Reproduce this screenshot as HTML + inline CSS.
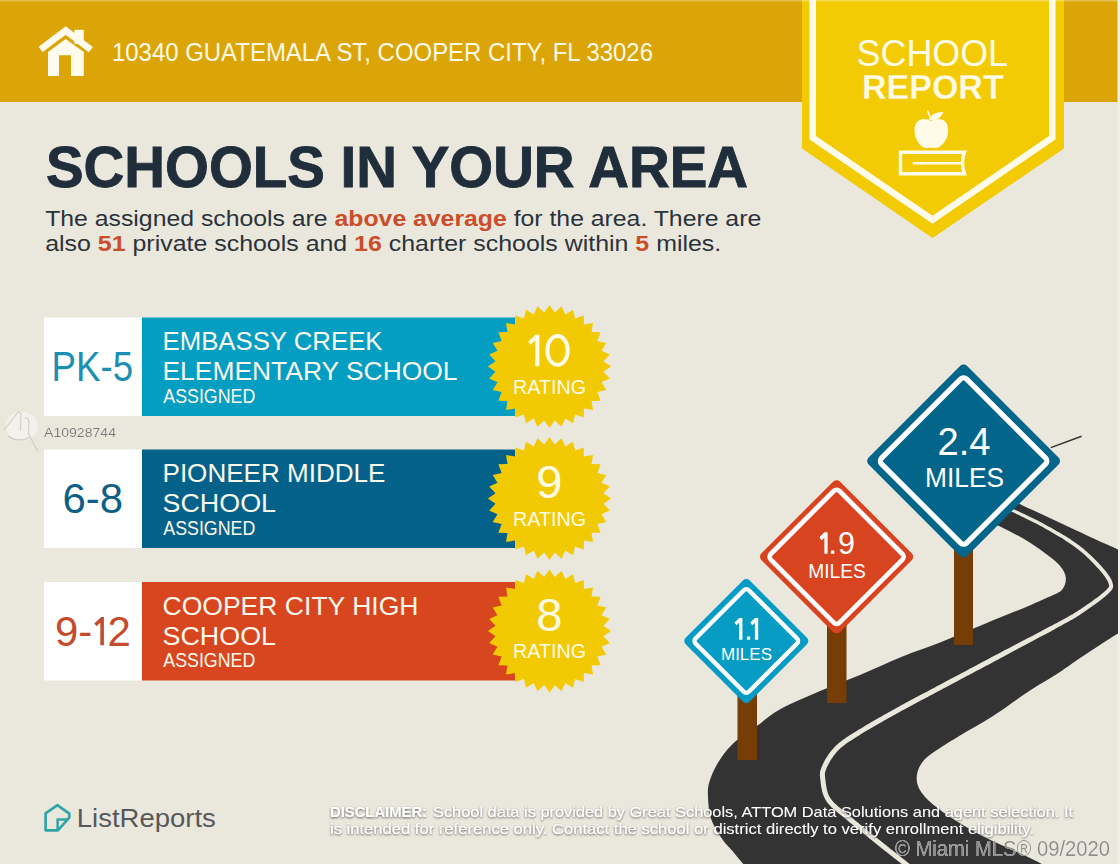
<!DOCTYPE html>
<html><head><meta charset="utf-8"><style>
html,body{margin:0;padding:0;background:#EAE7DD;width:1120px;height:864px;overflow:hidden}
svg{display:block}
text{font-family:"Liberation Sans",sans-serif}
</style></head><body>
<svg width="1120" height="864" viewBox="0 0 1120 864">
<rect width="1120" height="864" fill="#EAE7DD"/>
<rect x="0" y="0" width="1118" height="102" fill="#DBA508"/>
<rect x="1117.5" y="0" width="3" height="864" fill="#F3F0EA"/>
<g fill="#FFFCEE"><rect x="74.4" y="29.8" width="9.4" height="14"/><path d="M48,52 L65.7,38.9 L83.8,52 L83.8,76 L71,76 L71,55.2 L59,55.2 L59,76 L48,76 Z"/></g>
<polyline points="40.7,49.4 65.7,30.6 90.8,49.6" fill="none" stroke="#FFFCEE" stroke-width="6.8" stroke-linejoin="miter"/>
<text x="112" y="61" font-size="25" fill="#FFF9E6" font-family="&apos;Liberation Sans&apos;, sans-serif" textLength="541" lengthAdjust="spacingAndGlyphs">10340 GUATEMALA ST, COOPER CITY, FL 33026</text>
<polygon points="802,0 1064,0 1064,148.5 932.5,238 802,148.5" fill="#F2CB05"/>
<polyline points="812.75,-5 812.75,137.7 932.5,219.7 1052.25,137.7 1052.25,-5" fill="none" stroke="#FFFBE8" stroke-width="6.5" stroke-linejoin="miter"/>
<text x="856.6" y="66.4" font-size="37.5" fill="#FFFBE8" font-family="&apos;Liberation Sans&apos;, sans-serif" textLength="151.4" lengthAdjust="spacingAndGlyphs">SCHOOL</text>
<text x="862" y="98.8" font-size="35.3" font-weight="bold" fill="#FFFBE8" stroke="#F2CB05" stroke-width="0.3" font-family="&apos;Liberation Sans&apos;, sans-serif" textLength="141.7" lengthAdjust="spacingAndGlyphs">REPORT</text>
<g fill="#FFFBE8"><path d="M931,121 C925,117 914,118 914.5,131 C915,141 922,149 927,148 C929,147.5 932,147.5 934,148 C940,149 948,141 948.2,131 C948.5,118 938,117 931,121 Z"/><path d="M929,120 C931,114 936,112 943.5,112 C941,118 936,121 929,120 Z"/></g>
<line x1="927.5" y1="110.5" x2="930.5" y2="118" stroke="#FFFBE8" stroke-width="1.6"/>
<path d="M900.5,152.2 H964.5 Q960.5,163 964.5,173.8 H900.5 Z" fill="none" stroke="#FFFBE8" stroke-width="3.4"/>
<line x1="912.8" y1="163.3" x2="962" y2="163.3" stroke="#FFFBE8" stroke-width="2.6"/>
<rect x="0" y="0" width="1118" height="1.5" fill="#FFFFFF" opacity="0.3"/>
<text x="46" y="187" font-size="57" font-weight="bold" fill="#1F2E3A" stroke="#1F2E3A" stroke-width="0.9" font-family="&apos;Liberation Sans&apos;, sans-serif" textLength="702" lengthAdjust="spacingAndGlyphs">SCHOOLS IN YOUR AREA</text>
<text x="45.2" y="226.4" font-size="22" fill="#2B333A" font-family="&apos;Liberation Sans&apos;, sans-serif" textLength="716" lengthAdjust="spacingAndGlyphs">The assigned schools are <tspan font-weight="bold" fill="#CB4E2B">above average</tspan> for the area. There are</text>
<text x="45.2" y="251.4" font-size="22" fill="#2B333A" font-family="&apos;Liberation Sans&apos;, sans-serif" textLength="676" lengthAdjust="spacingAndGlyphs">also <tspan font-weight="bold" fill="#CB4E2B">51</tspan> private schools and <tspan font-weight="bold" fill="#CB4E2B">16</tspan> charter schools within <tspan font-weight="bold" fill="#CB4E2B">5</tspan> miles.</text>
<rect x="44" y="317.5" width="98" height="98.5" fill="#FFFFFF"/>
<rect x="142" y="317.5" width="373" height="98.5" fill="#049EC2"/>
<path d="M549.5,305.0 L554.8,312.5 L561.5,306.2 L565.3,314.5 L573.0,309.7 L575.1,318.6 L583.7,315.4 L583.9,324.5 L593.0,323.0 L591.5,332.1 L600.6,332.3 L597.4,340.9 L606.3,343.0 L601.5,350.7 L609.8,354.5 L603.5,361.2 L611.0,366.5 L603.5,371.8 L609.8,378.5 L601.5,382.3 L606.3,390.0 L597.4,392.1 L600.6,400.7 L591.5,400.9 L593.0,410.0 L583.9,408.5 L583.7,417.6 L575.1,414.4 L573.0,423.3 L565.3,418.5 L561.5,426.8 L554.8,420.5 L549.5,428.0 L544.2,420.5 L537.5,426.8 L533.7,418.5 L526.0,423.3 L523.9,414.4 L515.3,417.6 L515.1,408.5 L506.0,410.0 L507.5,400.9 L498.4,400.7 L501.6,392.1 L492.7,390.0 L497.5,382.3 L489.2,378.5 L495.5,371.8 L488.0,366.5 L495.5,361.2 L489.2,354.5 L497.5,350.7 L492.7,343.0 L501.6,340.9 L498.4,332.3 L507.5,332.1 L506.0,323.0 L515.1,324.5 L515.3,315.4 L523.9,318.6 L526.0,309.7 L533.7,314.5 L537.5,306.2 L544.2,312.5Z" fill="#F2CA04"/>
<text x="51.6" y="381.0" font-size="42" fill="#1B90B2" font-family="&apos;Liberation Sans&apos;, sans-serif" textLength="81.5" lengthAdjust="spacingAndGlyphs">PK-5</text>
<text x="162.5" y="350.0" font-size="26.5" fill="#FBF8EC" font-family="&apos;Liberation Sans&apos;, sans-serif" textLength="220" lengthAdjust="spacingAndGlyphs">EMBASSY CREEK</text>
<text x="162.5" y="380.0" font-size="26.5" fill="#FBF8EC" font-family="&apos;Liberation Sans&apos;, sans-serif" textLength="295" lengthAdjust="spacingAndGlyphs">ELEMENTARY SCHOOL</text>
<text x="163.3" y="402.8" font-size="19.5" fill="#FBF8EC" font-family="&apos;Liberation Sans&apos;, sans-serif" textLength="92" lengthAdjust="spacingAndGlyphs">ASSIGNED</text>
<path d="M528.3,341.6 L535.6,334.7 L539.4,334.7 L539.4,366.3 L535.3,366.3 L535.3,340.6 L530.6,344.8 Z" fill="#FFFBE6"/>
<ellipse cx="557.55" cy="350.4" rx="10.2" ry="14.4" fill="none" stroke="#FFFBE6" stroke-width="3.9"/>
<text x="549.5" y="393.5" font-size="20" fill="#FFFBE6" font-family="&apos;Liberation Sans&apos;, sans-serif" text-anchor="middle" textLength="73" lengthAdjust="spacingAndGlyphs">RATING</text>
<rect x="44" y="449.5" width="98" height="98.5" fill="#FFFFFF"/>
<rect x="142" y="449.5" width="373" height="98.5" fill="#04628A"/>
<path d="M549.5,437.0 L554.8,444.5 L561.5,438.2 L565.3,446.5 L573.0,441.7 L575.1,450.6 L583.7,447.4 L583.9,456.5 L593.0,455.0 L591.5,464.1 L600.6,464.3 L597.4,472.9 L606.3,475.0 L601.5,482.7 L609.8,486.5 L603.5,493.2 L611.0,498.5 L603.5,503.8 L609.8,510.5 L601.5,514.3 L606.3,522.0 L597.4,524.1 L600.6,532.7 L591.5,532.9 L593.0,542.0 L583.9,540.5 L583.7,549.6 L575.1,546.4 L573.0,555.3 L565.3,550.5 L561.5,558.8 L554.8,552.5 L549.5,560.0 L544.2,552.5 L537.5,558.8 L533.7,550.5 L526.0,555.3 L523.9,546.4 L515.3,549.6 L515.1,540.5 L506.0,542.0 L507.5,532.9 L498.4,532.7 L501.6,524.1 L492.7,522.0 L497.5,514.3 L489.2,510.5 L495.5,503.8 L488.0,498.5 L495.5,493.2 L489.2,486.5 L497.5,482.7 L492.7,475.0 L501.6,472.9 L498.4,464.3 L507.5,464.1 L506.0,455.0 L515.1,456.5 L515.3,447.4 L523.9,450.6 L526.0,441.7 L533.7,446.5 L537.5,438.2 L544.2,444.5Z" fill="#F2CA04"/>
<text x="62.6" y="513.0" font-size="42" fill="#0E5F85" font-family="&apos;Liberation Sans&apos;, sans-serif" textLength="60.5" lengthAdjust="spacingAndGlyphs">6-8</text>
<text x="162.5" y="482.0" font-size="26.5" fill="#FBF8EC" font-family="&apos;Liberation Sans&apos;, sans-serif" textLength="223" lengthAdjust="spacingAndGlyphs">PIONEER MIDDLE</text>
<text x="162.5" y="512.0" font-size="26.5" fill="#FBF8EC" font-family="&apos;Liberation Sans&apos;, sans-serif" textLength="113.5" lengthAdjust="spacingAndGlyphs">SCHOOL</text>
<text x="163.3" y="534.8" font-size="19.5" fill="#FBF8EC" font-family="&apos;Liberation Sans&apos;, sans-serif" textLength="92" lengthAdjust="spacingAndGlyphs">ASSIGNED</text>
<text x="549.2" y="498.4" font-size="47" fill="#FFFBE6" font-family="&apos;Liberation Sans&apos;, sans-serif" text-anchor="middle" >9</text>
<text x="549.5" y="525.5" font-size="20" fill="#FFFBE6" font-family="&apos;Liberation Sans&apos;, sans-serif" text-anchor="middle" textLength="73" lengthAdjust="spacingAndGlyphs">RATING</text>
<rect x="44" y="582" width="98" height="98.5" fill="#FFFFFF"/>
<rect x="142" y="582" width="373" height="98.5" fill="#D8461F"/>
<path d="M549.5,569.5 L554.8,577.0 L561.5,570.7 L565.3,579.0 L573.0,574.2 L575.1,583.1 L583.7,579.9 L583.9,589.0 L593.0,587.5 L591.5,596.6 L600.6,596.8 L597.4,605.4 L606.3,607.5 L601.5,615.2 L609.8,619.0 L603.5,625.7 L611.0,631.0 L603.5,636.3 L609.8,643.0 L601.5,646.8 L606.3,654.5 L597.4,656.6 L600.6,665.2 L591.5,665.4 L593.0,674.5 L583.9,673.0 L583.7,682.1 L575.1,678.9 L573.0,687.8 L565.3,683.0 L561.5,691.3 L554.8,685.0 L549.5,692.5 L544.2,685.0 L537.5,691.3 L533.7,683.0 L526.0,687.8 L523.9,678.9 L515.3,682.1 L515.1,673.0 L506.0,674.5 L507.5,665.4 L498.4,665.2 L501.6,656.6 L492.7,654.5 L497.5,646.8 L489.2,643.0 L495.5,636.3 L488.0,631.0 L495.5,625.7 L489.2,619.0 L497.5,615.2 L492.7,607.5 L501.6,605.4 L498.4,596.8 L507.5,596.6 L506.0,587.5 L515.1,589.0 L515.3,579.9 L523.9,583.1 L526.0,574.2 L533.7,579.0 L537.5,570.7 L544.2,577.0Z" fill="#F2CA04"/>
<text x="55" y="645.5" font-size="42" fill="#C64B2C" font-family="&apos;Liberation Sans&apos;, sans-serif">9-</text>
<path d="M94.3,623.6 L101.2,617.1 L103.9,617.1 L103.9,645.3 L100.3,645.3 L100.3,622.6 L96.6,626.2 Z" fill="#C64B2C"/>
<text x="107.5" y="645.5" font-size="42" fill="#C64B2C" font-family="&apos;Liberation Sans&apos;, sans-serif">2</text>
<text x="162.5" y="614.5" font-size="26.5" fill="#FBF8EC" font-family="&apos;Liberation Sans&apos;, sans-serif" textLength="256" lengthAdjust="spacingAndGlyphs">COOPER CITY HIGH</text>
<text x="162.5" y="644.5" font-size="26.5" fill="#FBF8EC" font-family="&apos;Liberation Sans&apos;, sans-serif" textLength="113.5" lengthAdjust="spacingAndGlyphs">SCHOOL</text>
<text x="163.3" y="667.3" font-size="19.5" fill="#FBF8EC" font-family="&apos;Liberation Sans&apos;, sans-serif" textLength="92" lengthAdjust="spacingAndGlyphs">ASSIGNED</text>
<text x="549.2" y="630.9" font-size="47" fill="#FFFBE6" font-family="&apos;Liberation Sans&apos;, sans-serif" text-anchor="middle" >8</text>
<text x="549.5" y="658" font-size="20" fill="#FFFBE6" font-family="&apos;Liberation Sans&apos;, sans-serif" text-anchor="middle" textLength="73" lengthAdjust="spacingAndGlyphs">RATING</text>
<text x="44" y="436.6" font-size="13.5" fill="#7A7874" font-family="&apos;Liberation Sans&apos;, sans-serif" textLength="72" lengthAdjust="spacingAndGlyphs" filter="url(#glow)">A10928744</text>
<ellipse cx="21.5" cy="426" rx="16" ry="14.5" fill="#F3F1EC"/>
<g fill="none" stroke="#CFCCC5" stroke-width="1.1" stroke-linecap="round"><path d="M4.5,429.5 L18.5,411.5 L21,414 L20.5,430.5"/><path d="M25,418 C28,417 29,420 29,424 L28.5,434 L37.5,451"/><path d="M8,436 C14,441 24,441 30,437"/></g>
<clipPath id="cp"><rect x="0" y="0" width="1118" height="864"/></clipPath>
<path d="M990.0,490.0 C992.5,491.2 1000.3,494.8 1005.0,497.0 C1009.7,499.2 1009.7,499.3 1018.4,503.4 C1027.1,507.5 1044.8,515.7 1057.3,521.6 C1069.8,527.5 1083.6,533.9 1093.7,538.6 C1103.8,543.3 1109.5,545.7 1118.0,549.6 C1126.5,553.5 1140.5,559.9 1145.0,562.0 L1145.0,620.0 C1140.5,622.2 1128.6,627.3 1118.0,633.5 C1107.4,639.7 1091.3,650.6 1081.6,657.0 C1071.9,663.4 1068.6,666.3 1060.0,671.9 C1051.4,677.5 1041.2,683.1 1030.0,690.5 C1018.8,697.9 1004.3,708.8 992.6,716.3 C980.9,723.8 968.8,730.2 960.0,735.5 C951.2,740.8 945.8,744.1 940.0,748.0 C934.2,751.9 928.8,755.0 925.0,759.0 C921.2,763.0 918.7,767.5 917.5,772.0 C916.3,776.5 916.2,781.3 918.0,786.0 C919.8,790.7 922.7,794.9 928.0,800.0 C933.3,805.1 940.9,810.9 950.0,816.9 C959.1,822.9 971.3,830.0 982.6,835.9 C993.9,841.8 1008.2,847.7 1017.8,852.2 C1027.4,856.7 1032.1,858.7 1040.0,863.0 C1047.9,867.3 1060.8,875.5 1065.0,878.0 L755.0,878.0 C751.5,873.9 739.8,859.7 734.3,853.2 C728.8,846.7 726.1,844.8 722.2,839.1 C718.3,833.4 713.5,825.7 711.1,819.0 C708.8,812.3 708.4,804.8 708.1,798.8 C707.8,792.8 707.4,788.8 709.1,782.7 C710.8,776.7 714.2,768.9 718.1,762.5 C722.0,756.1 725.8,750.4 732.2,744.4 C738.6,738.4 748.3,732.2 756.4,726.3 C764.5,720.4 770.0,715.0 780.6,709.1 C791.2,703.2 806.8,696.7 820.0,691.0 C833.2,685.3 846.5,680.7 860.0,675.0 C873.5,669.3 888.0,662.4 901.3,657.0 C914.6,651.6 928.2,647.2 940.0,642.5 C951.8,637.8 962.2,633.2 972.2,629.0 C982.2,624.8 991.9,620.8 1000.0,617.5 C1008.1,614.2 1012.9,612.5 1020.8,609.2 C1028.7,605.9 1040.6,600.8 1047.5,597.5 C1054.4,594.2 1059.0,593.0 1062.1,589.7 C1065.1,586.4 1066.2,581.5 1065.8,577.5 C1065.4,573.5 1063.2,569.4 1059.7,565.4 C1056.2,561.4 1051.2,557.7 1045.1,553.2 C1039.0,548.7 1030.7,543.1 1023.2,538.6 C1015.7,534.1 1006.5,529.8 1000.1,526.5 C993.7,523.2 989.2,521.1 985.0,519.0 C980.8,516.9 976.7,514.8 975.0,514.0 Z" fill="#333333" clip-path="url(#cp)"/>
<path d="M989.3,501.3 L989.6,501.5 L989.9,501.6 L990.2,501.8 L990.6,502.0 L991.0,502.2 L991.4,502.4 L991.8,502.6 L992.3,502.9 L992.8,503.1 L993.3,503.4 L993.9,503.7 L994.4,504.0 L995.0,504.3 L995.6,504.6 L996.2,504.9 L996.8,505.2 L997.4,505.5 L998.1,505.8 L998.7,506.1 L999.4,506.4 L1000.0,506.7 L1000.7,507.0 L1001.3,507.3 L1002.0,507.6 L1002.7,507.8 L1003.3,508.1 L1004.0,508.4 L1004.7,508.7 L1005.4,509.0 L1006.2,509.3 L1006.9,509.6 L1007.7,509.9 L1008.5,510.3 L1009.3,510.7 L1010.2,511.0 L1011.1,511.4 L1012.1,511.9 L1013.1,512.3 L1014.1,512.8 L1015.2,513.3 L1016.4,513.9 L1017.6,514.5 L1018.8,515.1 L1020.2,515.7 L1021.5,516.4 L1022.9,517.0 L1024.3,517.7 L1025.8,518.4 L1027.3,519.2 L1028.8,519.9 L1030.3,520.7 L1031.9,521.4 L1033.4,522.2 L1035.0,523.0 L1036.5,523.8 L1038.1,524.6 L1039.7,525.5 L1041.2,526.3 L1042.7,527.1 L1044.3,528.0 L1045.8,528.9 L1047.4,529.7 L1048.9,530.6 L1050.6,531.6 L1052.2,532.5 L1053.8,533.4 L1055.5,534.4 L1057.1,535.4 L1058.8,536.4 L1060.4,537.3 L1062.1,538.3 L1063.7,539.3 L1065.3,540.4 L1066.9,541.4 L1068.4,542.4 L1069.9,543.4 L1071.4,544.4 L1072.9,545.4 L1074.3,546.4 L1075.6,547.4 L1076.9,548.4 L1078.2,549.4 L1079.5,550.4 L1080.7,551.4 L1082.0,552.5 L1083.2,553.5 L1084.4,554.6 L1085.5,555.6 L1086.7,556.7 L1087.8,557.8 L1088.9,558.8 L1090.0,559.9 L1091.0,560.9 L1092.0,561.9 L1093.0,563.0 L1094.0,564.0 L1094.9,564.9 L1095.8,565.9 L1096.7,566.9 L1097.6,567.8 L1098.4,568.7 L1099.2,569.6 L1100.0,570.5 L1100.7,571.4 L1101.5,572.3 L1102.2,573.2 L1102.9,574.1 L1103.6,574.9 L1104.2,575.8 L1104.8,576.6 L1105.3,577.4 L1105.9,578.2 L1106.4,579.0 L1106.8,579.7 L1107.2,580.4 L1107.6,581.1 L1107.9,581.8 L1108.2,582.4 L1108.4,583.0 L1108.6,583.6 L1108.7,584.1 L1108.9,584.7 L1109.0,585.1 L1109.0,585.5 L1109.1,585.8 L1109.1,586.1 L1109.1,586.3 L1109.0,586.5 L1109.0,586.6 L1108.9,586.8 L1108.8,587.0 L1108.7,587.3 L1108.4,587.6 L1108.2,587.9 L1107.8,588.3 L1107.4,588.7 L1106.9,589.2 L1106.4,589.8 L1105.8,590.4 L1105.1,591.0 L1104.3,591.7 L1103.5,592.5 L1102.5,593.3 L1101.5,594.1 L1100.4,595.0 L1099.2,595.9 L1097.9,596.9 L1096.6,597.9 L1095.3,598.8 L1093.9,599.8 L1092.5,600.9 L1091.1,601.9 L1089.7,602.9 L1088.3,603.8 L1086.9,604.8 L1085.5,605.8 L1084.1,606.7 L1082.8,607.6 L1081.6,608.4 L1080.4,609.2 L1079.3,609.9 L1078.3,610.6 L1077.4,611.2 L1076.5,611.8 L1075.7,612.3 L1074.9,612.8 L1074.2,613.3 L1073.4,613.7 L1072.7,614.2 L1071.9,614.6 L1071.1,615.1 L1070.2,615.6 L1069.2,616.1 L1068.1,616.7 L1067.0,617.4 L1065.7,618.1 L1064.2,618.9 L1062.6,619.7 L1060.9,620.7 L1058.9,621.7 L1056.8,622.9 L1054.5,624.1 L1052.0,625.4 L1049.4,626.8 L1046.6,628.3 L1043.7,629.8 L1040.8,631.4 L1037.7,633.0 L1034.5,634.7 L1031.3,636.4 L1028.0,638.1 L1024.7,639.8 L1021.4,641.6 L1018.1,643.3 L1014.8,645.0 L1011.5,646.8 L1008.2,648.5 L1005.0,650.1 L1001.9,651.8 L998.8,653.4 L995.8,655.0 L992.7,656.6 L989.6,658.3 L986.5,659.9 L983.4,661.6 L980.2,663.3 L977.0,665.0 L973.9,666.7 L970.7,668.3 L967.6,670.0 L964.5,671.7 L961.4,673.3 L958.3,674.9 L955.4,676.5 L952.4,678.1 L949.5,679.6 L946.7,681.1 L944.0,682.5 L941.4,683.9 L938.8,685.3 L936.4,686.6 L934.0,687.9 L931.7,689.1 L929.5,690.2 L927.4,691.4 L925.3,692.5 L923.3,693.5 L921.3,694.6 L919.4,695.6 L917.5,696.6 L915.6,697.6 L913.8,698.6 L911.9,699.6 L910.1,700.6 L908.2,701.5 L906.4,702.5 L904.5,703.6 L902.7,704.6 L900.7,705.6 L898.8,706.7 L896.8,707.8 L894.8,708.9 L892.8,710.0 L890.7,711.2 L888.7,712.3 L886.6,713.5 L884.6,714.6 L882.5,715.8 L880.5,716.9 L878.5,718.1 L876.5,719.2 L874.5,720.3 L872.5,721.4 L870.6,722.6 L868.7,723.7 L866.9,724.7 L865.1,725.8 L863.4,726.9 L861.7,727.9 L860.1,728.9 L858.5,729.8 L857.0,730.8 L855.6,731.7 L854.1,732.6 L852.7,733.4 L851.4,734.3 L850.0,735.1 L848.7,736.0 L847.5,736.8 L846.2,737.6 L845.0,738.4 L843.9,739.3 L842.7,740.1 L841.6,740.9 L840.5,741.8 L839.4,742.6 L838.4,743.5 L837.3,744.4 L836.3,745.3 L835.4,746.2 L834.4,747.2 L833.5,748.2 L832.6,749.2 L831.7,750.2 L830.9,751.2 L830.1,752.3 L829.3,753.3 L828.5,754.4 L827.8,755.4 L827.2,756.5 L826.5,757.5 L825.9,758.5 L825.3,759.6 L824.7,760.6 L824.2,761.5 L823.7,762.5 L823.2,763.4 L822.8,764.4 L822.4,765.2 L822.0,766.1 L821.7,766.9 L821.3,767.7 L821.1,768.5 L820.8,769.2 L820.6,769.9 L820.4,770.6 L820.2,771.3 L820.1,772.0 L820.0,772.6 L820.0,773.3 L819.9,774.0 L819.9,774.6 L819.9,775.3 L819.9,776.0 L820.0,776.6 L820.1,777.3 L820.1,778.0 L820.2,778.8 L820.3,779.5 L820.4,780.3 L820.5,781.1 L820.6,782.0 L820.7,782.9 L820.9,783.9 L821.0,784.8 L821.1,785.9 L821.3,786.9 L821.5,788.0 L821.7,789.0 L821.9,790.1 L822.1,791.3 L822.4,792.4 L822.8,793.5 L823.2,794.7 L823.6,795.8 L824.1,796.9 L824.6,798.1 L825.2,799.2 L825.8,800.3 L826.5,801.4 L827.3,802.5 L828.1,803.5 L829.0,804.5 L829.8,805.5 L830.8,806.4 L831.7,807.4 L832.7,808.3 L833.8,809.2 L834.8,810.2 L835.9,811.1 L837.0,812.0 L838.2,812.9 L839.4,813.9 L840.6,814.9 L841.8,815.8 L843.1,816.9 L844.4,817.9 L845.7,819.0 L847.0,820.1 L848.4,821.2 L849.8,822.4 L851.4,823.7 L853.0,825.0 L854.7,826.4 L856.4,827.8 L858.2,829.3 L860.0,830.8 L861.8,832.3 L863.7,833.8 L865.6,835.3 L867.5,836.8 L869.3,838.3 L871.2,839.8 L873.0,841.2 L874.8,842.7 L876.5,844.1 L878.2,845.4 L879.8,846.7 L881.3,847.9 L882.7,849.1 L884.1,850.2 L885.5,851.2 L886.8,852.3 L888.0,853.3 L889.3,854.3 L890.5,855.2 L891.7,856.1 L892.8,857.0 L893.9,857.9 L895.0,858.8 L896.1,859.6 L897.1,860.4 L898.1,861.1 L899.0,861.9 L900.0,862.6 L900.9,863.3 L901.7,864.0 L902.5,864.7 L903.4,865.3 L904.1,865.9 L904.9,866.5 L905.6,867.1 L906.2,867.7 L906.9,868.2 L907.5,868.7 L908.0,869.2 L908.6,869.7 L909.1,870.1 L909.6,870.5 L910.0,870.9 L910.5,871.3 L910.9,871.7 L911.2,872.0 L911.6,872.3 L911.9,872.6 L912.3,872.9 L912.6,873.2 L912.8,873.4 L913.1,873.7 L913.4,873.9 L916.6,870.1 L916.4,869.9 L916.2,869.7 L915.9,869.5 L915.6,869.2 L915.3,868.9 L914.9,868.6 L914.6,868.3 L914.2,867.9 L913.8,867.6 L913.3,867.2 L912.9,866.8 L912.4,866.3 L911.9,865.9 L911.3,865.4 L910.7,864.9 L910.1,864.4 L909.4,863.8 L908.8,863.3 L908.0,862.7 L907.3,862.1 L906.5,861.4 L905.7,860.8 L904.8,860.1 L904.0,859.4 L903.0,858.7 L902.1,858.0 L901.2,857.2 L900.2,856.4 L899.2,855.6 L898.1,854.8 L897.0,854.0 L895.9,853.1 L894.8,852.2 L893.6,851.3 L892.4,850.3 L891.1,849.4 L889.9,848.4 L888.6,847.3 L887.2,846.2 L885.9,845.1 L884.4,844.0 L882.9,842.8 L881.3,841.5 L879.6,840.1 L877.9,838.8 L876.1,837.3 L874.3,835.9 L872.5,834.4 L870.6,832.9 L868.7,831.4 L866.8,829.9 L865.0,828.4 L863.1,826.9 L861.3,825.4 L859.6,824.0 L857.8,822.6 L856.2,821.2 L854.6,819.9 L853.0,818.6 L851.6,817.4 L850.2,816.2 L848.9,815.1 L847.5,814.0 L846.2,813.0 L844.9,811.9 L843.7,811.0 L842.5,810.0 L841.3,809.1 L840.2,808.1 L839.1,807.2 L838.1,806.4 L837.1,805.5 L836.1,804.6 L835.2,803.8 L834.3,802.9 L833.5,802.1 L832.7,801.2 L832.0,800.3 L831.3,799.5 L830.7,798.6 L830.1,797.7 L829.6,796.8 L829.1,795.9 L828.6,794.9 L828.2,794.0 L827.9,793.0 L827.5,792.0 L827.3,791.0 L827.0,790.0 L826.8,789.1 L826.6,788.1 L826.4,787.1 L826.2,786.1 L826.1,785.1 L825.9,784.2 L825.8,783.2 L825.7,782.3 L825.6,781.4 L825.5,780.5 L825.4,779.7 L825.3,778.9 L825.2,778.1 L825.1,777.5 L825.0,776.8 L825.0,776.2 L824.9,775.7 L824.9,775.1 L824.9,774.6 L824.9,774.1 L824.9,773.7 L825.0,773.2 L825.0,772.8 L825.1,772.3 L825.2,771.8 L825.4,771.3 L825.6,770.7 L825.8,770.2 L826.0,769.5 L826.3,768.8 L826.6,768.1 L826.9,767.3 L827.3,766.5 L827.7,765.7 L828.2,764.8 L828.6,763.9 L829.1,763.0 L829.7,762.0 L830.2,761.1 L830.8,760.1 L831.4,759.1 L832.0,758.2 L832.7,757.2 L833.3,756.2 L834.1,755.3 L834.8,754.3 L835.5,753.4 L836.3,752.5 L837.1,751.5 L838.0,750.7 L838.8,749.8 L839.7,748.9 L840.7,748.1 L841.6,747.3 L842.6,746.5 L843.6,745.7 L844.6,744.9 L845.7,744.1 L846.7,743.3 L847.9,742.5 L849.0,741.8 L850.2,741.0 L851.5,740.2 L852.7,739.4 L854.0,738.5 L855.4,737.7 L856.8,736.8 L858.2,735.9 L859.7,735.0 L861.2,734.1 L862.7,733.1 L864.3,732.1 L866.0,731.1 L867.7,730.1 L869.5,729.0 L871.3,728.0 L873.1,726.9 L875.0,725.8 L877.0,724.7 L879.0,723.5 L881.0,722.4 L883.0,721.3 L885.0,720.1 L887.0,719.0 L889.1,717.8 L891.1,716.7 L893.2,715.5 L895.2,714.4 L897.2,713.3 L899.2,712.2 L901.2,711.1 L903.2,710.0 L905.1,709.0 L906.9,707.9 L908.8,706.9 L910.6,705.9 L912.5,705.0 L914.3,704.0 L916.1,703.0 L918.0,702.0 L919.8,701.0 L921.7,700.0 L923.7,699.0 L925.6,697.9 L927.7,696.9 L929.7,695.8 L931.9,694.7 L934.1,693.5 L936.4,692.3 L938.7,691.0 L941.2,689.7 L943.7,688.3 L946.4,686.9 L949.1,685.5 L951.9,684.0 L954.8,682.5 L957.7,680.9 L960.7,679.3 L963.7,677.7 L966.8,676.1 L969.9,674.4 L973.1,672.7 L976.2,671.1 L979.4,669.4 L982.5,667.7 L985.7,666.0 L988.9,664.4 L992.0,662.7 L995.1,661.0 L998.1,659.4 L1001.2,657.8 L1004.2,656.2 L1007.3,654.5 L1010.5,652.8 L1013.8,651.1 L1017.0,649.3 L1020.3,647.6 L1023.6,645.8 L1027.0,644.0 L1030.2,642.3 L1033.5,640.5 L1036.7,638.8 L1039.9,637.1 L1042.9,635.5 L1045.9,633.9 L1048.8,632.4 L1051.5,630.9 L1054.2,629.4 L1056.6,628.1 L1058.9,626.8 L1061.1,625.7 L1063.0,624.6 L1064.8,623.6 L1066.4,622.8 L1067.8,622.0 L1069.1,621.3 L1070.3,620.6 L1071.3,620.0 L1072.3,619.4 L1073.2,618.9 L1074.1,618.4 L1074.9,617.9 L1075.7,617.4 L1076.5,617.0 L1077.3,616.5 L1078.0,616.0 L1078.9,615.4 L1079.7,614.9 L1080.7,614.2 L1081.7,613.5 L1082.8,612.8 L1084.0,612.0 L1085.3,611.1 L1086.6,610.2 L1087.9,609.3 L1089.3,608.3 L1090.7,607.3 L1092.1,606.3 L1093.6,605.3 L1095.0,604.3 L1096.4,603.3 L1097.8,602.2 L1099.1,601.2 L1100.5,600.2 L1101.7,599.2 L1103.0,598.3 L1104.1,597.3 L1105.2,596.4 L1106.2,595.6 L1107.1,594.8 L1107.9,594.0 L1108.6,593.3 L1109.3,592.7 L1109.8,592.1 L1110.4,591.5 L1110.8,591.0 L1111.3,590.5 L1111.7,590.0 L1112.0,589.5 L1112.4,589.0 L1112.6,588.4 L1112.9,587.9 L1113.0,587.3 L1113.1,586.7 L1113.1,586.1 L1113.1,585.5 L1113.0,584.9 L1112.9,584.3 L1112.8,583.7 L1112.6,583.1 L1112.4,582.4 L1112.2,581.7 L1111.9,580.9 L1111.5,580.1 L1111.2,579.3 L1110.7,578.5 L1110.3,577.7 L1109.7,576.8 L1109.2,576.0 L1108.6,575.2 L1108.0,574.3 L1107.4,573.4 L1106.7,572.5 L1106.0,571.6 L1105.3,570.7 L1104.5,569.8 L1103.7,568.9 L1102.9,568.0 L1102.1,567.1 L1101.3,566.1 L1100.4,565.2 L1099.6,564.2 L1098.7,563.3 L1097.7,562.3 L1096.8,561.3 L1095.8,560.3 L1094.8,559.2 L1093.7,558.2 L1092.6,557.1 L1091.5,556.1 L1090.4,555.0 L1089.3,553.9 L1088.1,552.9 L1086.9,551.8 L1085.6,550.7 L1084.4,549.6 L1083.1,548.6 L1081.8,547.5 L1080.5,546.5 L1079.2,545.4 L1077.8,544.4 L1076.4,543.4 L1075.0,542.4 L1073.5,541.4 L1071.9,540.4 L1070.4,539.3 L1068.8,538.3 L1067.2,537.3 L1065.6,536.3 L1063.9,535.3 L1062.2,534.3 L1060.6,533.3 L1058.9,532.3 L1057.2,531.4 L1055.6,530.4 L1053.9,529.5 L1052.3,528.5 L1050.6,527.6 L1049.0,526.7 L1047.5,525.9 L1045.9,525.0 L1044.4,524.2 L1042.8,523.3 L1041.3,522.5 L1039.7,521.7 L1038.1,520.8 L1036.5,520.0 L1034.9,519.2 L1033.4,518.5 L1031.8,517.7 L1030.2,516.9 L1028.7,516.2 L1027.2,515.5 L1025.7,514.8 L1024.3,514.1 L1022.9,513.4 L1021.5,512.8 L1020.2,512.2 L1019.0,511.6 L1017.7,511.0 L1016.6,510.5 L1015.5,509.9 L1014.4,509.4 L1013.4,509.0 L1012.4,508.6 L1011.5,508.1 L1010.6,507.8 L1009.7,507.4 L1008.9,507.0 L1008.1,506.7 L1007.3,506.4 L1006.6,506.1 L1005.9,505.8 L1005.2,505.5 L1004.5,505.3 L1003.8,505.0 L1003.2,504.7 L1002.5,504.4 L1001.9,504.2 L1001.3,503.9 L1000.6,503.6 L1000.0,503.3 L999.4,503.0 L998.7,502.7 L998.1,502.4 L997.5,502.1 L996.9,501.8 L996.3,501.5 L995.8,501.3 L995.2,501.0 L994.7,500.7 L994.2,500.5 L993.7,500.2 L993.2,500.0 L992.8,499.7 L992.4,499.5 L992.0,499.3 L991.6,499.1 L991.3,499.0 L990.9,498.8 L990.7,498.7Z" fill="#EAE7DD" clip-path="url(#cp)"/>
<line x1="1050.8" y1="447.6" x2="1081.6" y2="436.2" stroke="#333" stroke-width="1.5"/>
<rect x="954" y="540" width="19" height="105" fill="#773D07"/>
<rect x="827" y="620" width="19.5" height="83" fill="#773D07"/>
<rect x="737.5" y="690" width="19.5" height="70" fill="#773D07"/>
<g transform="translate(963.6,461) rotate(45)"><rect x="-69.63" y="-69.63" width="139.26" height="139.26" rx="5" fill="#04658B"/><rect x="-60.04" y="-60.04" width="120.08" height="120.08" rx="4" fill="none" stroke="#FFFFFF" stroke-width="5.2"/></g>
<g transform="translate(836.6,556.8) rotate(45)"><rect x="-55.63" y="-55.63" width="111.26" height="111.26" rx="5" fill="#D8441F"/><rect x="-48.55" y="-48.55" width="97.10" height="97.10" rx="4" fill="none" stroke="#FFFFFF" stroke-width="4.7"/></g>
<g transform="translate(746.3,641) rotate(45)"><rect x="-45.16" y="-45.16" width="90.32" height="90.32" rx="4.5" fill="#079CC3"/><rect x="-37.65" y="-37.65" width="75.31" height="75.31" rx="3.5" fill="none" stroke="#FFFFFF" stroke-width="4.4"/></g>
<text x="964" y="455" font-size="38.5" fill="#FFFFFF" font-family="&apos;Liberation Sans&apos;, sans-serif" text-anchor="middle" textLength="53" lengthAdjust="spacingAndGlyphs">2.4</text>
<text x="964.5" y="486.5" font-size="27" fill="#FFFFFF" font-family="&apos;Liberation Sans&apos;, sans-serif" text-anchor="middle" textLength="79" lengthAdjust="spacingAndGlyphs">MILES</text>
<path d="M819.5,537.2 L824.3,532.3 L827.6,532.3 L827.6,553.7 L824.4,553.7 L824.4,537.8 L821.5,540.4 Z M830.9,550.6 H834.3 V553.7 H830.9 Z" fill="#FFFFFF"/>
<text x="838" y="553.7" font-size="30.5" fill="#FFFFFF" font-family="&apos;Liberation Sans&apos;, sans-serif">9</text>
<text x="837" y="577.6" font-size="20" fill="#FFFFFF" font-family="&apos;Liberation Sans&apos;, sans-serif" text-anchor="middle" textLength="57.5" lengthAdjust="spacingAndGlyphs">MILES</text>
<path d="M734.5,622.6 L739.2,618.1 L742.4,618.1 L742.4,639.8 L739.1,639.8 L739.1,622.8 L736.4,625.2 Z M746.9,636.6 H750.1 V639.8 H746.9 Z M750.3,622.6 L755,618.1 L758.2,618.1 L758.2,639.8 L754.9,639.8 L754.9,622.8 L752.2,625.2 Z" fill="#FFFFFF"/>
<text x="746.5" y="660" font-size="17" fill="#FFFFFF" font-family="&apos;Liberation Sans&apos;, sans-serif" text-anchor="middle" textLength="51" lengthAdjust="spacingAndGlyphs">MILES</text>
<path d="M57.4,805.2 L69.3,813.6 L69.3,817.6 L57.9,830.3 L45.6,830.3 L45.6,813.4 Z" fill="none" stroke="#2FA5A8" stroke-width="2.7" stroke-linejoin="round"/>
<path d="M57.6,829.5 L57.6,819.6 L68.3,819.6" fill="none" stroke="#2FA5A8" stroke-width="2.5" stroke-linejoin="round"/>
<text x="76.8" y="826.6" font-size="26" fill="#56585A" font-family="&apos;Liberation Sans&apos;, sans-serif" textLength="139" lengthAdjust="spacingAndGlyphs">ListReports</text>
<defs><filter id="ds" x="-5%" y="-60%" width="110%" height="220%"><feGaussianBlur in="SourceAlpha" stdDeviation="1.3" result="b"/><feOffset dx="0.3" dy="0.5" in="b" result="o"/><feFlood flood-color="#2A2A2A" flood-opacity="0.75"/><feComposite in2="o" operator="in"/><feMerge><feMergeNode/><feMergeNode in="SourceGraphic"/></feMerge></filter><filter id="glow" x="-5%" y="-60%" width="110%" height="220%"><feMorphology in="SourceAlpha" operator="dilate" radius="0.2" result="d"/><feGaussianBlur in="d" stdDeviation="0.6" result="b"/><feFlood flood-color="#FFFFFF" flood-opacity="0.9"/><feComposite in2="b" operator="in"/><feMerge><feMergeNode/><feMergeNode in="SourceGraphic"/></feMerge></filter></defs>
<text x="330" y="817.3" font-size="14.8" font-weight="bold" fill="#FFFFFF" filter="url(#ds)" font-family="&apos;Liberation Sans&apos;, sans-serif" textLength="97" lengthAdjust="spacingAndGlyphs">DISCLAIMER:</text><text x="433" y="817.3" font-size="14.8" fill="#FFFFFF" filter="url(#ds)" font-family="&apos;Liberation Sans&apos;, sans-serif" textLength="640" lengthAdjust="spacingAndGlyphs">School data is provided by Great Schools, ATTOM Data Solutions and agent selection. It</text>
<text x="330" y="833.5" font-size="14.8" fill="#FFFFFF" filter="url(#ds)" font-family="&apos;Liberation Sans&apos;, sans-serif" textLength="704" lengthAdjust="spacingAndGlyphs">is intended for reference only. Contact the school or district directly to verify enrollment eligibility.</text>
<text x="895" y="856.1" font-size="22.4" fill="#8C8C8A" filter="url(#glow)" font-family="&apos;Liberation Sans&apos;, sans-serif" textLength="215" lengthAdjust="spacingAndGlyphs">© Miami MLS® 09/2020</text>
</svg></body></html>
